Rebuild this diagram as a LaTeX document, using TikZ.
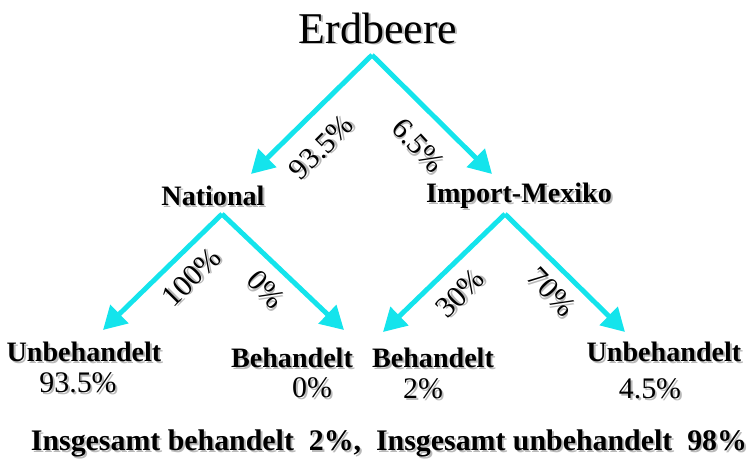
\documentclass[tikz,border=0pt]{standalone}
\usepackage{fontspec}
\setmainfont{Liberation Serif}
\usepackage{tikz}
\usetikzlibrary{arrows.meta}
\definecolor{arrowcyan}{RGB}{20,228,236}
\newcommand{\shd}[1]{\leavevmode\rlap{\kern1.1pt\raisebox{-1.1pt}{\color{gray!55}#1}}#1}

\begin{document}
\begin{tikzpicture}[x=0.02cm, y=-0.02cm]

                \tikzset{% This is the style settings for nodes
                    head/.style={font=\fontsize{25}{28}\selectfont, inner sep=0pt},
                    branch/.style={font=\fontsize{16}{19}\selectfont\bfseries, inner sep=0pt},
                    share/.style={font=\fontsize{17}{20}\selectfont, inner sep=0pt},
                    total/.style={font=\fontsize{17}{20}\selectfont\bfseries, inner sep=0pt},
                    flow/.style={-{Triangle[length=0.46cm,width=0.5cm]}, line width=2.8pt, draw=arrowcyan}}

                    \useasboundingbox (0,0) rectangle (747,464);

                    \node [head](erd) at (378,29) {\shd{Erdbeere}};
                    \node [branch](nat) at (213,197) {\shd{National}};
                    \node [branch](imp) at (519,197) {\shd{Import-Mexiko}};

                    \node [branch](nat_u) at (84,353) {\shd{Unbehandelt}};
                    \node [share](nat_u_p) at (78,384) {\shd{93.5\%}};
                    \node [branch](nat_b) at (292,359) {\shd{Behandelt}};
                    \node [share](nat_b_p) at (312,389) {\shd{0\%}};
                    \node [branch](imp_b) at (433,359) {\shd{Behandelt}};
                    \node [share](imp_b_p) at (423,390) {\shd{2\%}};
                    \node [branch](imp_u) at (664,353) {\shd{Unbehandelt}};
                    \node [share](imp_u_p) at (650,390) {\shd{4.5\%}};

                    \node [total](sum) at (389,444) {\shd{Insgesamt behandelt\ \ 2\%,\ \ Insgesamt unbehandelt\ \ 98\%}};

                    \coordinate (erd_j) at (372,55);
                    \coordinate (nat_j) at (222,214);
                    \coordinate (imp_j) at (505,214);
                    \coordinate (nat_tip) at (251,174);
                    \coordinate (imp_tip) at (492,174);
                    \coordinate (nat_u_tip) at (103,330);
                    \coordinate (nat_b_tip) at (344,330);
                    \coordinate (imp_b_tip) at (383,332);
                    \coordinate (imp_u_tip) at (625,332);

                    \draw [flow] (erd_j) -- (nat_tip);
                    \draw [flow] (erd_j) -- (imp_tip);
                    \draw [flow] (nat_j) -- (nat_u_tip);
                    \draw [flow] (nat_j) -- (nat_b_tip);
                    \draw [flow] (imp_j) -- (imp_b_tip);
                    \draw [flow] (imp_j) -- (imp_u_tip);

                    \node [share, rotate=45](s_1) at (322,148) {\shd{93.5\%}};
                    \node [share, rotate=-47](s_2) at (418,146) {\shd{6.5\%}};
                    \node [share, rotate=45](s_3) at (192,278) {\shd{100\%}};
                    \node [share, rotate=-47](s_4) at (265,290) {\shd{0\%}};
                    \node [share, rotate=45](s_5) at (461,294) {\shd{30\%}};
                    \node [share, rotate=-47](s_6) at (551,293) {\shd{70\%}};

            \end{tikzpicture}
\end{document}
